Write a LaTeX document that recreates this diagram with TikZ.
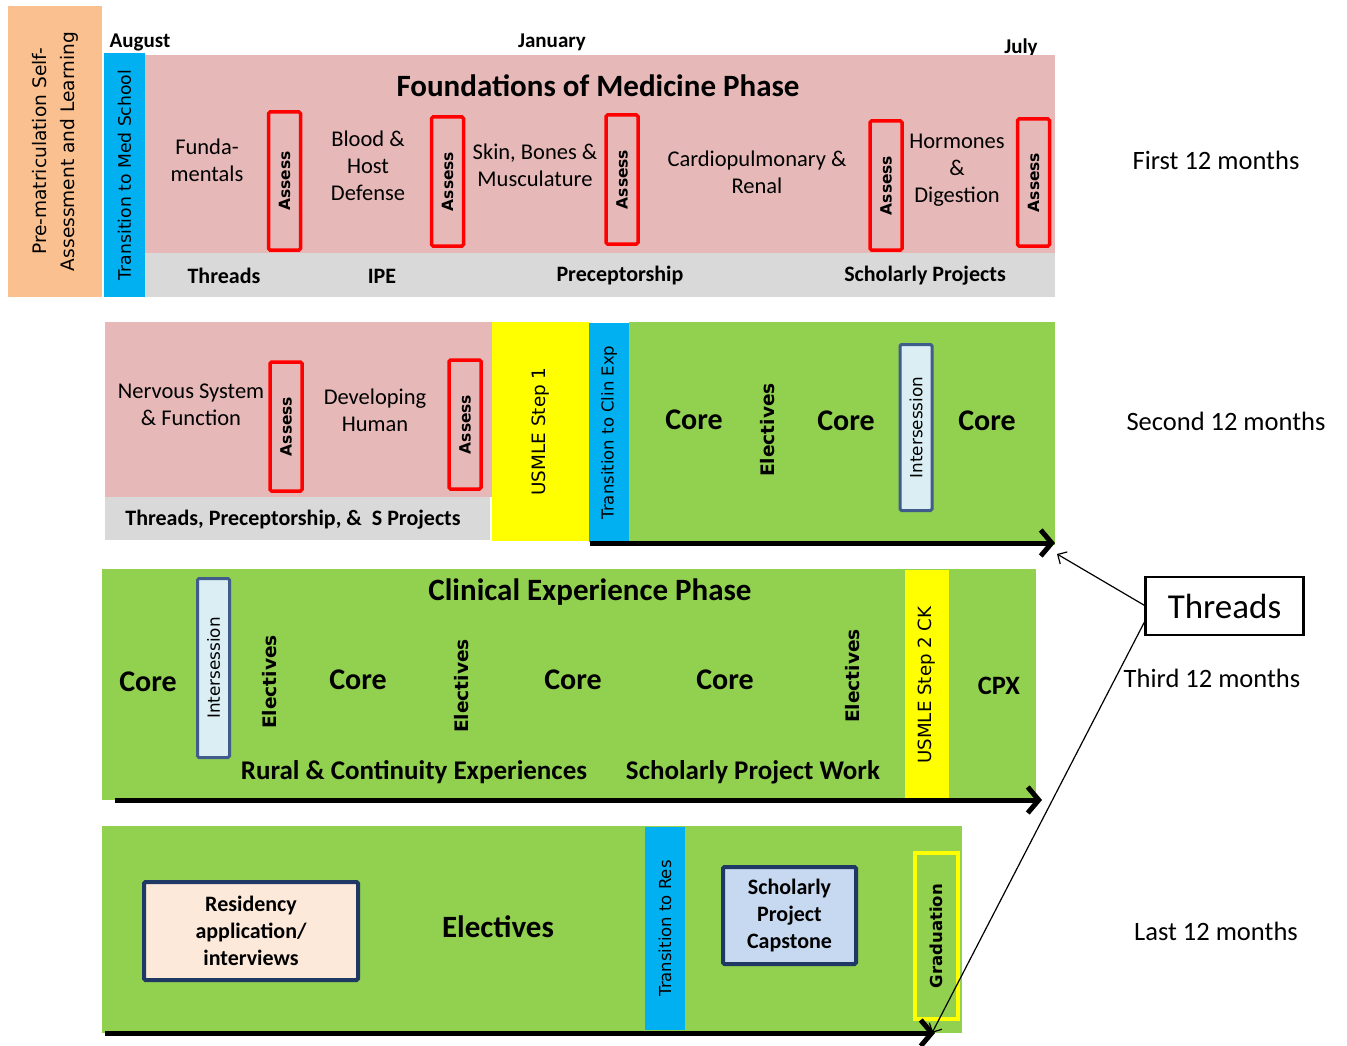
\documentclass[tikz,border=0pt]{standalone}
\usepackage{fontspec}
\setmainfont{Carlito}
\newfontfamily\vfont{DejaVu Sans}
\usetikzlibrary{arrows.meta}
\newcommand\myfs[2]{\fontsize{#1}{#2}\selectfont}
\definecolor{peach}{RGB}{250,192,144}
\definecolor{cyanb}{RGB}{0,176,240}
\definecolor{pinkb}{RGB}{230,185,184}
\definecolor{grayb}{RGB}{217,217,217}
\definecolor{greenb}{RGB}{146,208,80}
\definecolor{yellowb}{RGB}{255,255,0}
\definecolor{interfill}{RGB}{218,238,243}
\definecolor{slateb}{RGB}{63,92,138}
\definecolor{navyb}{RGB}{31,56,100}
\definecolor{resfill}{RGB}{253,233,217}
\definecolor{schfill}{RGB}{198,217,241}
\tikzset{
  every node/.style={inner sep=0pt, outer sep=0pt},
  strip/.style={rotate=90, font=\vfont\myfs{16.5}{20}},
  assessbox/.style={rotate=90, draw=red, line width=3.5pt, rounded corners=1.5pt, minimum height=32pt, font=\vfont\bfseries\myfs{15.5}{18}},
  interbox/.style={rotate=90, draw=slateb, fill=interfill, line width=3pt, rounded corners=1.5pt, minimum height=32pt, font=\vfont\myfs{16.8}{19}},
  body/.style={font=\myfs{22.5}{27}, align=center},
  graylbl/.style={font=\bfseries\myfs{22}{26}},
  core/.style={font=\bfseries\myfs{30}{34}},
  elect/.style={rotate=90, font=\vfont\bfseries\myfs{18.6}{20}},
  ttl/.style={font=\bfseries\myfs{31}{36}},
  month/.style={font=\myfs{26.5}{30}},
  mon/.style={font=\bfseries\myfs{21}{24}},
  timeline/.style={line width=5pt, -{Straight Barb[length=11pt,width=26pt,line width=5pt]}},
  pointer/.style={line width=1.2pt, -{Straight Barb[length=7pt,width=14pt,line width=1.2pt]}},
  bluebox/.style={draw=navyb, line width=4pt, rounded corners=1.5pt, font=\bfseries\myfs{22}{27}, align=center}
}
\begin{document}
\begin{tikzpicture}[x=1pt,y=-1pt]
\useasboundingbox (0,0) rectangle (1347,1046);

% ---------- Row 1 ----------
\node[fill=peach, rotate=90, minimum width=291pt, minimum height=94pt, font=\vfont\myfs{18.6}{28}, align=center] (prem) at (55,151.5) {Pre-matriculation Self-\\Assessment and Learning};
\node[mon] (aug) at (140,42) {August};
\node[mon] (jan) at (552,42) {January};
\node[mon] (jul) at (1021,48) {July};
\node[fill=pinkb, minimum width=910pt, minimum height=198pt] (pink1) at (600,154) {};
\node[fill=grayb, minimum width=910pt, minimum height=44pt] (gray1) at (600,275) {};
\node[strip, fill=cyanb, minimum width=244pt, minimum height=41pt, font=\vfont\myfs{17.2}{20}] (tms) at (124.5,175) {Transition to Med School};
\node[ttl] (fom) at (598,86) {Foundations of Medicine Phase};
\node[body] (fund) at (207,160) {Funda-\\mentals};
\node[assessbox, minimum width=138pt] (as1) at (284.5,181) {Assess};
\node[body] (blood) at (368,166) {Blood \&\\Host\\Defense};
\node[assessbox, minimum width=129pt] (as2) at (447.5,181.5) {Assess};
\node[body] (skin) at (535,165) {Skin, Bones \&\\Musculature};
\node[assessbox, minimum width=129pt] (as3) at (622,179.5) {Assess};
\node[body] (cardio) at (757,172) {Cardiopulmonary \&\\Renal};
\node[assessbox, minimum width=129pt] (as4) at (886,185.5) {Assess};
\node[body] (horm) at (957,170) {Hormones\\\&\\Digestion};
\node[assessbox, minimum width=127pt] (as5) at (1033.5,182.5) {Assess};
\node[graylbl] (g1) at (224,276) {Threads};
\node[graylbl] (g2) at (382,276) {IPE};
\node[graylbl] (g3) at (620,276) {Preceptorship};
\node[graylbl] (g4) at (925,276) {Scholarly Projects};
\node[month] (m1) at (1216,160) {First 12 months};

% ---------- Row 2 ----------
\node[fill=pinkb, minimum width=387pt, minimum height=175pt] (pink2) at (298.5,409.5) {};
\node[fill=grayb, minimum width=385pt, minimum height=43pt] (gray2) at (297.5,518.5) {};
\node[body] (nerv) at (191,405) {Nervous System\\\& Function};
\node[assessbox, minimum width=129pt] (as6) at (286,426.5) {Assess};
\node[body] (dev) at (375,410) {Developing\\Human};
\node[assessbox, minimum width=129pt] (as7) at (465,424.5) {Assess};
\node[graylbl] (g5) at (293,520) {Threads, Preceptorship, \&\ \ S Projects};
\node[strip, fill=yellowb, minimum width=219pt, minimum height=97pt, font=\vfont\myfs{18.4}{20}] (usm1) at (540.5,431.5) {USMLE Step 1};
\node[fill=greenb, minimum width=426pt, minimum height=223pt] (green2) at (842,433.5) {};
\node[strip, fill=cyanb, minimum width=219pt, minimum height=40pt] (tce) at (609,432.5) {Transition to Clin Exp};
\node[core] (c21) at (694,420) {Core};
\node[elect] (e21) at (768,430) {Electives};
\node[core] (c22) at (846,421) {Core};
\node[interbox, minimum width=166pt] (int1) at (916,427.5) {Intersession};
\node[core] (c23) at (987,421) {Core};
\coordinate (t2s) at (590,543);
\coordinate (t2e) at (1055,543);
\draw[timeline] (t2s) -- (t2e);
\node[month] (m2) at (1226,421) {Second 12 months};

% ---------- Row 3 ----------
\node[fill=greenb, minimum width=934pt, minimum height=231pt] (green3) at (569,684.5) {};
\node[ttl] (cep) at (590,592) {Clinical Experience Phase};
\node[core] (c31) at (148,682) {Core};
\node[interbox, minimum width=179pt] (int2) at (213.5,668) {Intersession};
\node[elect] (e31) at (270,682) {Electives};
\node[core] (c32) at (358,680) {Core};
\node[elect] (e32) at (462,686) {Electives};
\node[core] (c33) at (573,680) {Core};
\node[core] (c34) at (725,680) {Core};
\node[elect] (e33) at (853,676) {Electives};
\node[strip, fill=yellowb, minimum width=230pt, minimum height=44pt, font=\vfont\myfs{18.2}{20}] (usm2) at (927,685) {USMLE Step 2 CK};
\node[font=\bfseries\myfs{26.5}{30}] (cpx) at (999,686) {CPX};
\node[font=\bfseries\myfs{27}{31}] (rural) at (414,772) {Rural \& Continuity Experiences};
\node[font=\bfseries\myfs{27}{31}] (spw) at (753,772) {Scholarly Project Work};
\coordinate (t3s) at (115,800);
\coordinate (t3e) at (1042,800);
\draw[timeline] (t3s) -- (t3e);
\node[month] (m3) at (1212,678) {Third 12 months};

% ---------- Row 4 ----------
\node[fill=greenb, minimum width=860pt, minimum height=207pt] (green4) at (532,929.5) {};
\node[strip, fill=cyanb, minimum width=203pt, minimum height=40pt] (tres) at (665,928.5) {Transition to Res};
\node[bluebox, fill=resfill, minimum width=214pt, minimum height=98pt] (res) at (251,931) {Residency\\application/\\interviews};
\node[font=\bfseries\myfs{31}{36}] (el4) at (498,927) {Electives};
\node[bluebox, fill=schfill, minimum width=133pt, minimum height=97pt] (sch) at (789.5,915.5) {Scholarly\\Project\\Capstone};
\node[rotate=90, draw=yellowb, line width=4pt, minimum width=166pt, minimum height=43pt, font=\vfont\bfseries\myfs{16.5}{20}] (grad) at (936.5,936) {Graduation};
\coordinate (t4s) at (105,1033);
\coordinate (t4e) at (935,1033);
\draw[timeline] (t4s) -- (t4e);
\node[month] (m4) at (1216,931) {Last 12 months};

% ---------- Threads callout ----------
\node[draw=black, line width=2.5pt, minimum width=158pt, minimum height=58pt, font=\myfs{35}{40}] (thr) at (1224.5,606) {Threads};
\coordinate (p1) at (1057,554);
\coordinate (p2) at (932,1033);
\draw[pointer] (thr.west) -- (p1);
\draw[pointer] (thr.190) -- (p2);
\end{tikzpicture}
\end{document}
